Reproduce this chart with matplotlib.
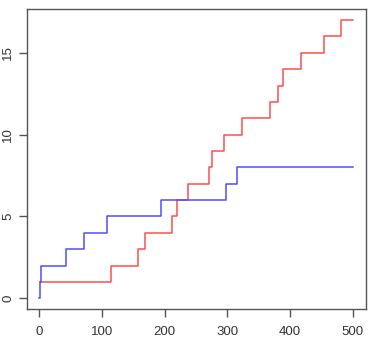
import matplotlib.pyplot as plt

# event times (x) and running counts (y) for each series
red_x = [1, 114, 157, 168, 212, 220, 238, 270, 275, 295, 324, 368, 380, 389, 417, 454, 481, 500]
red_y = [1, 2, 3, 4, 5, 6, 7, 8, 9, 10, 11, 12, 13, 14, 15, 16, 17, 17]
blue_x = [0, 1, 3, 43, 72, 109, 195, 297, 316, 500]
blue_y = [0, 1, 2, 3, 4, 5, 6, 7, 8, 8]

x_ticks = [0, 100, 200, 300, 400, 500]
y_ticks = [0, 5, 10, 15]

plt.rcParams['font.family'] = ['Liberation Sans', 'DejaVu Sans']

fig = plt.figure(figsize=(3.76, 3.43), dpi=100)
ax = fig.add_axes([26.5 / 376, 1 - 309.4 / 343, (365.5 - 26.5) / 376, (309.4 - 9) / 343])

ax.step(red_x, red_y, where='post', color='#ff4d4d', lw=1.1)
ax.step(blue_x, blue_y, where='post', color='#4d4dff', lw=1.1)

ax.set_xlim(-20, 520)
ax.set_ylim(-0.68, 17.68)
ax.set_xticks(x_ticks)
ax.set_yticks(y_ticks)
ax.set_yticklabels([str(v) for v in y_ticks], rotation=90, va='center')

for s in ax.spines.values():
    s.set_color('#555555')
    s.set_linewidth(1.0)
ax.tick_params(length=6, width=1, color='#555555', labelcolor='#333333', labelsize=9.5)
ax.tick_params(axis='x', pad=6)
ax.tick_params(axis='y', pad=3)

fig.savefig('out.png', dpi=100)
